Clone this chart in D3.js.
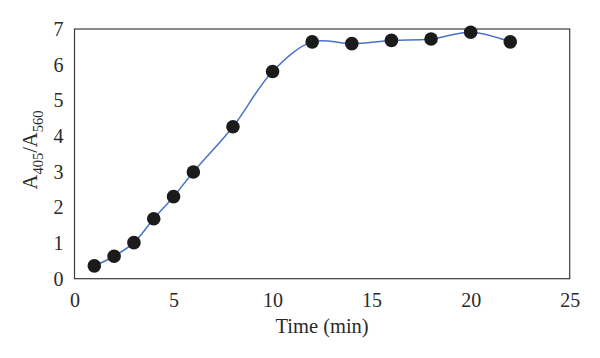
<!DOCTYPE html>
<html><head><meta charset="utf-8">
<script src="https://cdn.jsdelivr.net/npm/d3@7"></script>
<style>body{margin:0;background:#fff}svg{display:block}</style>
</head><body>
<svg id="c" width="600" height="358"></svg>
<script>
const times = [1, 2, 3, 4, 5, 6, 8, 10, 12, 14, 16, 18, 20, 22];
const ratios = [0.36, 0.63, 1.01, 1.68, 2.30, 2.99, 4.26, 5.81, 6.64, 6.59, 6.68, 6.72, 6.91, 6.64];
const xTicks = [0, 5, 10, 15, 20, 25];
const yTicks = [0, 1, 2, 3, 4, 5, 6, 7];

const svg = d3.select("#c");
const m = {l: 74.5, t: 29, r: 569.7, b: 278.7};
const x = d3.scaleLinear().domain([0, 25]).range([m.l, m.r]);
const y = d3.scaleLinear().domain([0, 7]).range([m.b, m.t]);
const font = "'Liberation Serif', 'Times New Roman', serif";
const ink = "#2a2a2a";

svg.append("rect").attr("x", m.l).attr("y", m.t).attr("width", m.r - m.l).attr("height", m.b - m.t)
  .attr("fill", "none").attr("stroke", "#3a3a3a").attr("stroke-width", 1.2);

const xa = svg.append("g").attr("transform", `translate(0,${m.b})`)
  .call(d3.axisBottom(x).tickValues(xTicks).tickSize(0).tickPadding(14).tickFormat(d3.format("d")));
xa.select(".domain").remove();
xa.selectAll("text").attr("font-family", font).attr("font-size", 20).attr("fill", ink);

const ya = svg.append("g").attr("transform", `translate(${m.l},0)`)
  .call(d3.axisLeft(y).tickValues(yTicks).tickSize(0).tickPadding(11).tickFormat(d3.format("d")));
ya.select(".domain").remove();
ya.selectAll("text").attr("font-family", font).attr("font-size", 20).attr("fill", ink);

const data = times.map((t, i) => ({t, v: ratios[i]}));
svg.append("path").datum(data)
  .attr("d", d3.line().x(d => x(d.t)).y(d => y(d.v)).curve(d3.curveCatmullRom.alpha(0.5)))
  .attr("fill", "none").attr("stroke", "#4a72c8").attr("stroke-width", 1.5);

svg.selectAll("circle.p").data(data).enter().append("circle")
  .attr("cx", d => x(d.t)).attr("cy", d => y(d.v)).attr("r", 6.8).attr("fill", "#1b1b1b");

svg.append("text").attr("x", (m.l + m.r) / 2).attr("y", 333).attr("text-anchor", "middle")
  .attr("font-family", font).attr("font-size", 20.5).attr("fill", ink).text("Time (min)");

const yl = svg.append("text").attr("transform", `translate(37,150) rotate(-90)`)
  .attr("text-anchor", "middle").attr("font-family", font).attr("font-size", 20.5).attr("fill", ink);
yl.append("tspan").text("A");
yl.append("tspan").attr("font-size", 14.5).attr("dy", 6).text("405");
yl.append("tspan").attr("dy", -6).text("/");
yl.append("tspan").text("A");
yl.append("tspan").attr("font-size", 14.5).attr("dy", 6).text("560");
</script>
</body></html>
